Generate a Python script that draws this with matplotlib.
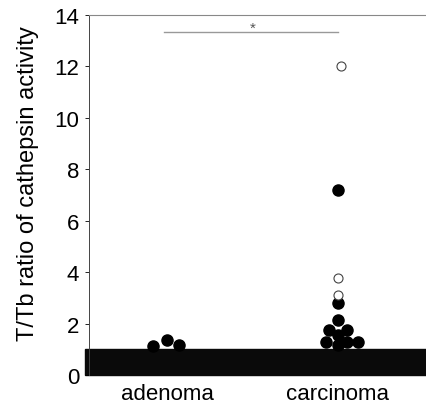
import numpy as np
import matplotlib.pyplot as plt

plt.rcParams['font.family'] = ['Liberation Sans', 'DejaVu Sans']

groups = ["adenoma", "carcinoma"]

# visible points above the dark band (x offset, value, filled)
aden_dx = [-0.08, 0.0, 0.07]
aden_y = [1.13, 1.36, 1.15]

carc_filled_dx = [0.0, 0.0, -0.055, 0.055, 0.0, -0.07, 0.0, 0.055, 0.12, 0.0]
carc_filled_y = [7.2, 2.8, 1.75, 1.75, 2.14, 1.28, 1.56, 1.28, 1.28, 1.17]
carc_open_dx = [0.02, 0.0, 0.0]
carc_open_y = [12.0, 3.77, 3.1]

fig = plt.figure(figsize=(4.26, 4.10), dpi=100)
ax = fig.add_axes([0.209, 0.083, 0.791, 0.878])

# dark band covering values below ~1
ax.axhspan(0, 1.02, xmin=-0.012, color="#0a0a0a", zorder=1, clip_on=False)

ax.plot(np.array(aden_dx) + 0, aden_y, "o", color="black", ms=8, zorder=3)
ax.plot(np.array(carc_filled_dx) + 1, carc_filled_y, "o", color="black", ms=8, zorder=3)
ax.plot(np.array(carc_open_dx) + 1, carc_open_y, "o", mfc="white", mec="#444444",
        mew=0.8, ms=6.5, zorder=3)

# significance bar
ax.plot([-0.02, 1.0], [13.35, 13.35], color="#999999", lw=1.0, zorder=2)
ax.text(0.5, 13.5, "*", ha="center", va="center", fontsize=11, color="#555555")

ax.set_xlim(-0.456, 1.515)
ax.set_ylim(0, 14)
ax.set_yticks([0, 2, 4, 6, 8, 10, 12, 14])
ax.set_xticks([0, 1])
ax.set_xticklabels(groups, fontsize=16)
ax.tick_params(axis="y", labelsize=16, length=3, width=0.6, pad=4)
ax.tick_params(axis="x", length=0, pad=6)
ax.set_ylabel("T/Tb ratio of cathepsin activity", fontsize=17)
ax.yaxis.set_label_coords(-0.148, 0.535)

ax.spines["right"].set_visible(False)
ax.spines["bottom"].set_visible(False)
ax.spines["left"].set_linewidth(0.7)
ax.spines["left"].set_color("#444444")
ax.spines["top"].set_linewidth(0.8)
ax.spines["top"].set_color("#888888")

fig.savefig("out.png", dpi=100)
